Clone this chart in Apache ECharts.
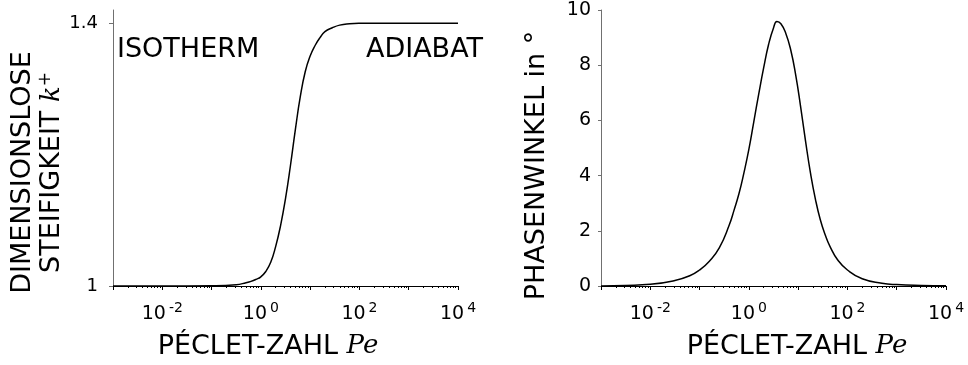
<!DOCTYPE html>
<html>
<head>
<meta charset="utf-8">
<script src="https://cdn.jsdelivr.net/npm/echarts@6/dist/echarts.min.js"></script>
<style>
html,body{margin:0;padding:0;background:#fff;}
#c{width:968px;height:365px;}
</style>
</head>
<body>
<div id="c"></div>
<script>
// Péclet numbers (x values, log axis) for the stiffness curve
var peclet = [0.001, 0.01, 0.1, 0.316, 0.501, 0.631, 0.794, 1, 1.259, 1.585, 1.995, 2.512, 3.162, 3.981, 5.012, 6.31, 7.943, 10, 12.59, 15.85, 19.95, 28.18, 39.81, 63.1, 100, 1000, 10000];
// dimensionless stiffness k+
var stiffness = [1.0, 1.0, 1.0004, 1.002, 1.005, 1.007, 1.01, 1.014, 1.022, 1.036, 1.06, 1.092, 1.133, 1.183, 1.238, 1.288, 1.326, 1.35, 1.366, 1.378, 1.387, 1.393, 1.397, 1.399, 1.3997, 1.4, 1.4];

// Péclet numbers for the phase curve
var pecletPhase = [0.001, 0.00316, 0.01, 0.0316, 0.0631, 0.1, 0.158, 0.251, 0.398, 0.501, 0.631, 0.794, 1, 1.259, 1.585, 1.995, 2.512, 3.162, 3.715, 4.467, 5.623, 7.079, 8.913, 11.22, 14.13, 17.78, 22.39, 28.18, 35.48, 44.67, 63.1, 100, 199.5, 501, 1000, 3162, 10000];
// phase angle in degrees
var phase = [0.0, 0.02, 0.06, 0.2, 0.37, 0.58, 0.9, 1.38, 2.2, 2.75, 3.35, 4.1, 4.95, 5.95, 6.95, 7.9, 8.75, 9.35, 9.58, 9.5, 9.15, 8.55, 7.65, 6.5, 5.25, 4.1, 3.15, 2.4, 1.85, 1.42, 0.95, 0.58, 0.26, 0.1, 0.05, 0.02, 0.01];

var xLabelValues = [0.01, 1, 100, 10000];
var decades = [0.001, 0.01, 0.1, 1, 10, 100, 1000, 10000];
var kTicks = [1, 1.4];

var minorTicks = [];
for (var d = 0; d < decades.length - 1; d++) {
  for (var m = 2; m <= 9; m++) minorTicks.push(+(decades[d] * m).toPrecision(3));
}

var SANS = 'DejaVu Sans';
var SERIF = 'DejaVu Serif';

function expLabel(v) {
  var e = Math.round(Math.log(v) / Math.LN10);
  return '{b|10}{s|' + e + '}';
}
var xLabelRich = {
  b: { fontFamily: SANS, fontSize: 19, lineHeight: 26, color: '#000' },
  s: { fontFamily: SANS, fontSize: 14, verticalAlign: 'top', color: '#000', padding: [0, 0, 0, 3] }
};

function mainX(grid, padding) {
  return {
    type: 'log', logBase: 10, gridIndex: grid, min: 0.001, max: 10000, position: 'bottom',
    axisLine: { show: true, lineStyle: { color: '#000', width: 1 } },
    axisTick: { show: true, length: 4, customValues: decades, lineStyle: { color: '#000' } },
    axisLabel: { show: true, customValues: xLabelValues, formatter: expLabel, rich: xLabelRich,
      fontFamily: SANS, fontSize: 19, color: '#000', margin: 15 },
    splitLine: { show: false }, minorTick: { show: false }, minorSplitLine: { show: false },
    name: '{a|PÉCLET-ZAHL }{i|Pe}',
    nameLocation: 'middle', nameGap: 47,
    nameTextStyle: {
      padding: padding,
      rich: {
        a: { fontFamily: SANS, fontSize: 27, color: '#000' },
        i: { fontFamily: SERIF, fontStyle: 'italic', fontSize: 26, color: '#000' }
      }
    }
  };
}
function minorX(grid) {
  return {
    type: 'log', logBase: 10, gridIndex: grid, min: 0.001, max: 10000, position: 'bottom',
    axisLine: { show: false },
    axisTick: { show: true, length: 2, customValues: minorTicks, lineStyle: { color: '#000' } },
    axisLabel: { show: false },
    splitLine: { show: false }
  };
}

var chart = echarts.init(document.getElementById('c'), null, { renderer: 'canvas' });
chart.setOption({
  animation: false,
  backgroundColor: '#fff',
  grid: [
    { left: 113, top: 10, width: 345, height: 276 },
    { left: 601, top: 10, width: 345, height: 276 }
  ],
  xAxis: [mainX(0, [0, 35, 0, 0]), minorX(0), mainX(1, [0, 0, 0, 47]), minorX(1)],
  yAxis: [
    {
      type: 'value', gridIndex: 0, min: 1, max: 1.42,
      axisLine: { show: true, lineStyle: { color: '#707070' } },
      axisTick: { show: true, length: 4, customValues: kTicks, lineStyle: { color: '#707070' } },
      axisLabel: { customValues: kTicks, formatter: function (v) { return Math.abs(v - 1) < 1e-9 ? '1' : '1.4'; },
        fontFamily: SANS, fontSize: 18, color: '#000', margin: 15 },
      splitLine: { show: false },
      name: '{t|DIMENSIONSLOSE}\n{t|STEIFIGKEIT }{k|k}{p|+}',
      nameLocation: 'middle', nameRotate: 90, nameGap: 36,
      nameTextStyle: {
        padding: [0, 49, 0, 0],
        rich: {
          t: { fontFamily: SANS, fontSize: 27, lineHeight: 29, color: '#000' },
          k: { fontFamily: SERIF, fontStyle: 'italic', fontSize: 26, lineHeight: 29, color: '#000' },
          p: { fontFamily: SANS, fontSize: 17, verticalAlign: 'top', color: '#000' }
        }
      }
    },
    {
      type: 'value', gridIndex: 1, min: 0, max: 10, interval: 2,
      axisLine: { show: true, lineStyle: { color: '#707070' } },
      axisTick: { show: true, length: 3, lineStyle: { color: '#707070' } },
      axisLabel: { fontFamily: SANS, fontSize: 19, color: '#000', margin: 10 },
      splitLine: { show: false },
      name: 'PHASENWINKEL in °',
      nameLocation: 'middle', nameRotate: 90, nameGap: 51,
      nameTextStyle: { fontFamily: SANS, fontSize: 27, color: '#000', padding: [0, 35, 0, 0] }
    }
  ],
  graphic: [
    { type: 'text', left: 117, top: 36, style: { text: 'ISOTHERM', font: '27px "DejaVu Sans"', fill: '#000' } },
    { type: 'text', right: 968 - 483, top: 36, style: { text: 'ADIABAT', font: '27px "DejaVu Sans"', fill: '#000' } }
  ],
  series: [
    {
      type: 'line', xAxisIndex: 0, yAxisIndex: 0, showSymbol: false, smooth: 0.5,
      lineStyle: { color: '#000', width: 1.5 },
      data: peclet.map(function (p, i) { return [p, stiffness[i]]; })
    },
    {
      type: 'line', xAxisIndex: 2, yAxisIndex: 1, showSymbol: false, smooth: 0.5,
      lineStyle: { color: '#000', width: 1.5 },
      data: pecletPhase.map(function (p, i) { return [p, phase[i]]; })
    }
  ]
});
</script>
</body>
</html>
